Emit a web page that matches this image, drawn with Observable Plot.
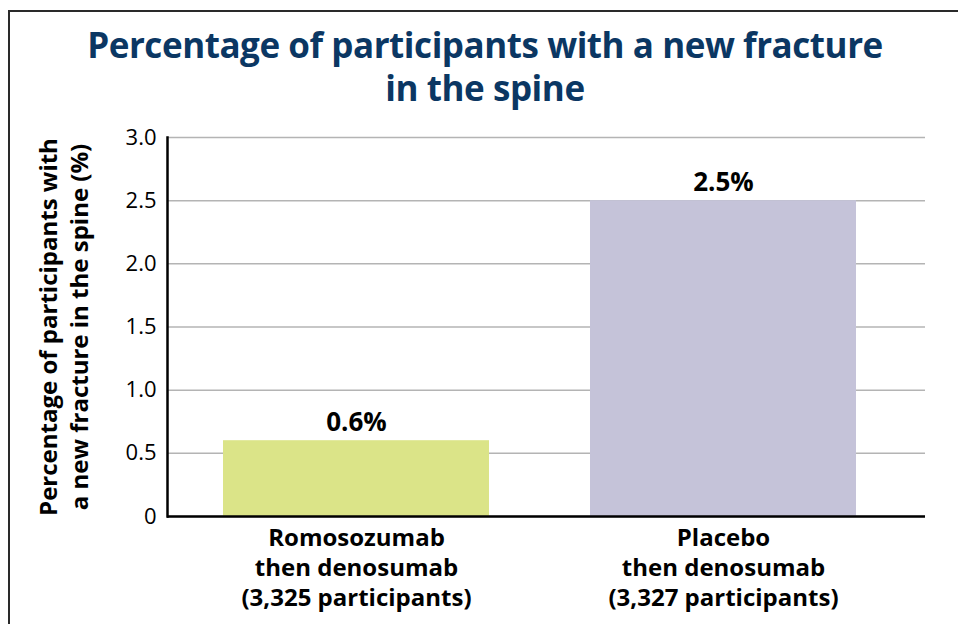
<!DOCTYPE html>
<html>
<head>
<meta charset="utf-8">
<script src="https://cdn.jsdelivr.net/npm/d3@7"></script>
<script src="https://cdn.jsdelivr.net/npm/@observablehq/plot@0.6"></script>
<style>
  html, body { margin: 0; padding: 0; background: #fff; }
  body { width: 958px; height: 624px; overflow: hidden; position: relative; font-family: "Open Sans", sans-serif; }
  #border { position: absolute; left: 8px; top: 10px; width: 1000px; height: 700px; border: 2px solid #2a2a2a; box-sizing: border-box; pointer-events: none; }
  #title { position: relative; height: 115px; margin: 0; padding-top: 23px; box-sizing: border-box; width: 970px;
           text-align: center; color: #0b3763; font-family: "Open Sans", sans-serif; font-weight: 700; font-size: 35px; line-height: 43px; letter-spacing: -0.45px; }
  #title div { height: 43px; }
  #chart { position: relative; }
</style>
</head>
<body>
<div id="border"></div>
<div id="title"><div>Percentage of participants with a new fracture</div><div>in the spine</div></div>
<div id="chart"></div>
<script>
const treatments = ["Romosozumab", "Placebo"];
const followUp = ["then denosumab", "then denosumab"];
const participants = ["3,325", "3,327"];
const percentages = [0.6, 2.5];
const barColors = ["#dbe488", "#c5c3d9"];
const yTicks = [0, 0.5, 1.0, 1.5, 2.0, 2.5, 3.0];
const yLabel = "Percentage of participants with\na new fracture in the spine (%)";

const labels = treatments.map((t, i) => `${t}\n${followUp[i]}\n(${participants[i]} participants)`);
const data = labels.map((g, i) => ({group: g, value: percentages[i], color: barColors[i]}));

const chart = Plot.plot({
  width: 958,
  height: 509,
  marginTop: 22,
  marginBottom: 108,
  marginLeft: 167,
  marginRight: 33,
  style: {fontFamily: "Open Sans, sans-serif", color: "#000", background: "transparent"},
  x: {domain: labels, paddingInner: 0.275, paddingOuter: 0.17, align: 0.45, label: null},
  y: {domain: [0, 3], ticks: yTicks, label: null},
  color: {type: "identity"},
  marks: [
    Plot.gridY(yTicks, {stroke: "#b4b4b4", strokeOpacity: 1, strokeWidth: 1.5}),
    Plot.barY(data, {x: "group", y: "value", fill: "color"}),
    Plot.text(data, {x: "group", y: "value", text: d => `${d.value.toFixed(1)}%`, lineAnchor: "bottom", dy: -10,
      fontSize: 26, fontWeight: 700, fill: "#000"}),
    Plot.axisY(yTicks, {tickSize: 0, tickPadding: 11, fontSize: 22, fill: "#000",
      tickFormat: d => d === 0 ? "0" : d.toFixed(1), label: null}),
    Plot.axisX({tickSize: 0, tickPadding: 8, fontSize: 24, fontWeight: 700, lineHeight: 1.25, fill: "#000", label: null}),
    Plot.text([yLabel], {frameAnchor: "left", rotate: -90, dx: -105, lineAnchor: "middle", textAnchor: "middle",
      fontSize: 24, fontWeight: 700, lineHeight: 1.3, fill: "#000"}),
    Plot.ruleY([0], {stroke: "#000", strokeWidth: 2.5}),
    Plot.frame({anchor: "left", stroke: "#000", strokeWidth: 2.5})
  ]
});
document.getElementById("chart").appendChild(chart);
</script>
</body>
</html>
